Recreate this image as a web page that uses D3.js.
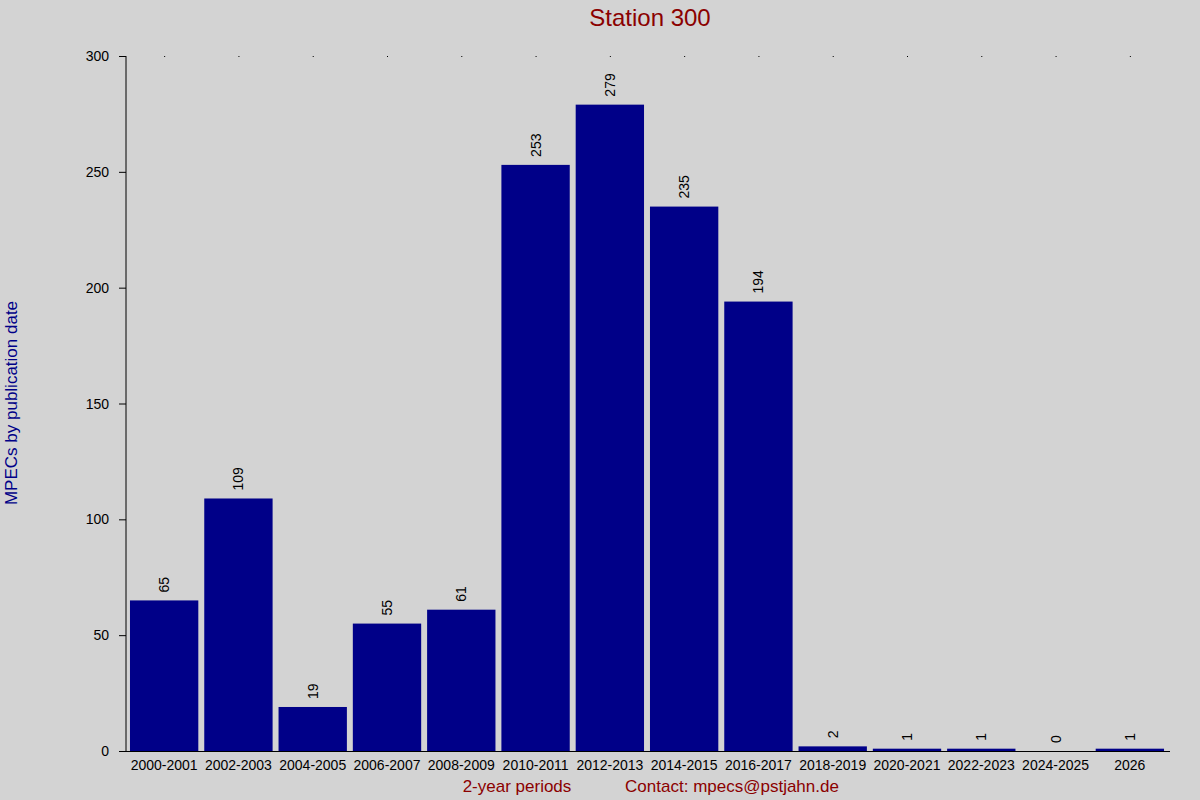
<!DOCTYPE html>
<html><head><meta charset="utf-8">
<script src="https://cdn.jsdelivr.net/npm/d3@7"></script>
<style>body{margin:0;background:#d3d3d3}svg{display:block}text{font-family:"Liberation Sans",Arial,sans-serif}</style>
</head><body><svg id="c" width="1200" height="800"></svg>
<script>
const categories = ["2000-2001","2002-2003","2004-2005","2006-2007","2008-2009","2010-2011","2012-2013","2014-2015","2016-2017","2018-2019","2020-2021","2022-2023","2024-2025","2026"];
const values = [65,109,19,55,61,253,279,235,194,2,1,1,0,1];
const yTicks = [0,50,100,150,200,250,300];

const svg = d3.select("#c");
svg.append("rect").attr("width",1200).attr("height",800).attr("fill","#d3d3d3");
const L=126,R=1170,T=56,B=751;
const x = d3.scaleBand().domain(categories).range([L+1,R-3]).paddingInner(0.08).paddingOuter(0.04);
const y = d3.scaleLinear().domain([0,300]).range([B,T]);

svg.append("g").selectAll("rect").data(values).join("rect")
  .attr("x",(d,i)=>x(categories[i])).attr("width",x.bandwidth())
  .attr("y",d=>y(d)).attr("height",d=>B-y(d)).attr("fill","#000088");

// dots at top
svg.append("g").selectAll("rect").data(categories).join("rect")
  .attr("x",d=>x(d)+x.bandwidth()/2).attr("y",T).attr("width",1).attr("height",1).attr("fill","#000");

// y axis
const ya = svg.append("g");
ya.append("line").attr("x1",L).attr("x2",L).attr("y1",T).attr("y2",B).attr("stroke","#000");
ya.selectAll("line.t").data(yTicks).join("line").attr("class","t")
  .attr("x1",L-7).attr("x2",L).attr("y1",d=>y(d)+0.5).attr("y2",d=>y(d)+0.5).attr("stroke","#000");
ya.selectAll("text").data(yTicks).join("text")
  .attr("x",L-17).attr("y",d=>y(d)+5).attr("text-anchor","end").attr("font-size",14).text(d=>d);
// x axis
svg.append("line").attr("x1",L-7).attr("x2",R).attr("y1",B+0.5).attr("y2",B+0.5).attr("stroke","#000");
svg.append("g").selectAll("text").data(categories).join("text")
  .attr("x",d=>x(d)+x.bandwidth()/2).attr("y",B+19).attr("text-anchor","middle").attr("font-size",14).text(d=>d);

// value labels
svg.append("g").selectAll("text").data(values).join("text")
  .attr("transform",(d,i)=>`translate(${x(categories[i])+x.bandwidth()/2+5},${y(d)-8}) rotate(-90)`)
  .attr("font-size",14).text(d=>d);

svg.append("text").attr("x",650).attr("y",26).attr("text-anchor","middle").attr("font-size",24).attr("fill","#8b0000").text("Station 300");
svg.append("text").attr("x",517).attr("y",792).attr("text-anchor","middle").attr("font-size",17).attr("fill","#8b0000").text("2-year periods");
svg.append("text").attr("x",732).attr("y",792).attr("text-anchor","middle").attr("font-size",17).attr("fill","#8b0000").text("Contact: mpecs@pstjahn.de");
svg.append("text").attr("transform","translate(17,403) rotate(-90)").attr("text-anchor","middle").attr("font-size",17).attr("fill","#000088").text("MPECs by publication date");
</script></body></html>
